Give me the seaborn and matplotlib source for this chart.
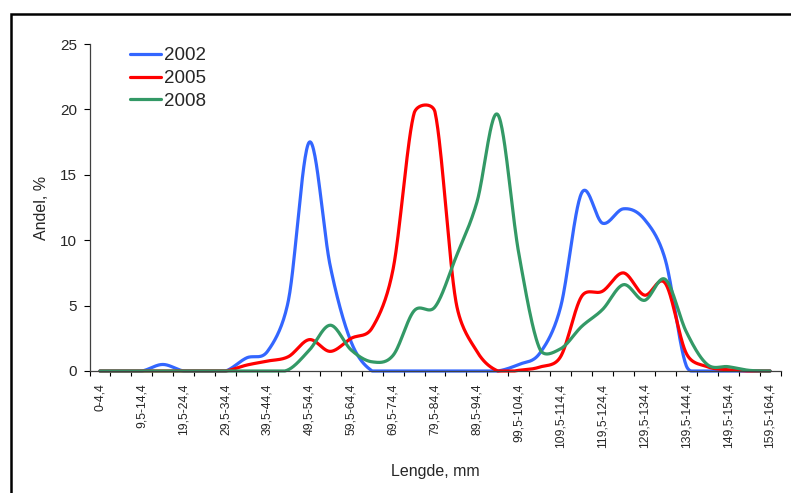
import numpy as np
import pandas as pd
import matplotlib
matplotlib.use('Agg')
import matplotlib.pyplot as plt
import seaborn as sns
from matplotlib.patches import Rectangle

# length classes (mm), 5 mm bins
length_bins = ['0-4,4', '4,5-9,4', '9,5-14,4', '14,5-19,4', '19,5-24,4', '24,5-29,4',
               '29,5-34,4', '34,5-39,4', '39,5-44,4', '44,5-49,4', '49,5-54,4', '54,5-59,4',
               '59,5-64,4', '64,5-69,4', '69,5-74,4', '74,5-79,4', '79,5-84,4', '84,5-89,4',
               '89,5-94,4', '94,5-99,4', '99,5-104,4', '104,5-109,4', '109,5-114,4',
               '114,5-119,4', '119,5-124,4', '124,5-129,4', '129,5-134,4', '134,5-139,4',
               '139,5-144,4', '144,5-149,4', '149,5-154,4', '154,5-159,4', '159,5-164,4']

# share (%) per length class
share_2002 = [0, 0, 0, 0.5, 0, 0, 0, 1.0, 1.5, 5.4, 17.5, 8.0, 2.2, 0, 0, 0, 0,
              0, 0, 0, 0.5, 1.35, 4.9, 13.6, 11.3, 12.4, 11.6, 8.5, 0.4, 0, 0, 0, 0]
share_2005 = [0, 0, 0, 0, 0, 0, 0, 0.45, 0.76, 1.1, 2.4, 1.5, 2.5, 3.3, 7.8, 19.7, 19.8,
              5.3, 1.5, 0, 0.05, 0.3, 1.1, 5.7, 6.1, 7.5, 5.8, 6.7, 1.35, 0.33, 0.1, 0, 0]
share_2008 = [0, 0, 0, 0, 0, 0, 0, 0, 0, 0.1, 1.6, 3.5, 1.6, 0.7, 1.2, 4.6, 4.9,
              8.7, 12.9, 19.6, 9.0, 1.7, 1.7, 3.4, 4.7, 6.6, 5.4, 7.0, 3.0, 0.5, 0.33, 0.05, 0]

years = ['2002', '2005', '2008']
colors = {'2002': '#3366FF', '2005': '#FF0000', '2008': '#339966'}

# pixel size of one category / one percent, so the smoothing behaves like Excel's
PX_X, PX_Y = 20.94, 13.08


def smooth_line(values, steps=30, f=1 / 6):
    """Bezier smoothing through the points; control arms capped at half the segment"""
    p = np.column_stack([np.arange(len(values)) * PX_X, np.asarray(values, float) * PX_Y])
    n = len(p)
    t = np.linspace(0, 1, steps, endpoint=False)[:, None]
    pts = []
    for i in range(n - 1):
        p0 = p[max(i - 1, 0)]
        p1, p2 = p[i], p[i + 1]
        p3 = p[min(i + 2, n - 1)]
        half = np.hypot(*(p2 - p1)) / 2
        a1 = (p2 - p0) * f
        a2 = (p3 - p1) * f
        for a in (a1, a2):
            ln = np.hypot(*a)
            if ln > half:
                a *= half / ln
        c1 = p1 + a1
        c2 = p2 - a2
        pts.append((1 - t)**3 * p1 + 3 * (1 - t)**2 * t * c1 + 3 * (1 - t) * t**2 * c2 + t**3 * p2)
    pts.append(p[-1:])
    pts = np.vstack(pts)
    return pts[:, 0] / PX_X, np.maximum(pts[:, 1] / PX_Y, 0)


frames = []
for year, vals in zip(years, [share_2002, share_2005, share_2008]):
    xs, ys = smooth_line(vals)
    frames.append(pd.DataFrame({'pos': xs, 'share': ys, 'year': year}))
df = pd.concat(frames, ignore_index=True)

sns.set_theme(style='white')
plt.rcParams['font.family'] = ['Liberation Sans', 'DejaVu Sans']

fig = plt.figure(figsize=(7.91, 4.93), dpi=100)
ax = fig.add_axes([89.5 / 791, 1 - 371 / 493, 691 / 791, 327 / 493])

sns.lineplot(data=df, x='pos', y='share', hue='year', palette=colors,
             estimator=None, sort=False, linewidth=2.3, ax=ax)
for line in ax.lines:
    line.set_clip_on(False)

ax.set_xlim(-0.5, len(length_bins) - 0.5)
ax.set_ylim(0, 25)
ax.set_yticks(range(0, 26, 5))
ax.set_xticks(range(0, len(length_bins), 2))
ax.set_xticklabels(length_bins[::2], rotation=90, fontsize=8.8)
ax.set_xticks(np.arange(-0.5, len(length_bins), 1), minor=True)
ax.tick_params(axis='x', which='major', length=0, pad=9)
ax.tick_params(axis='x', which='minor', length=3.5, width=0.8, direction='out', color='black', bottom=True)
ax.tick_params(axis='y', length=4, width=0.8, direction='out', color='black', left=True, labelsize=11, pad=5)

for side in ['top', 'right']:
    ax.spines[side].set_visible(False)
for side in ['left', 'bottom']:
    ax.spines[side].set_color('#404040')
    ax.spines[side].set_linewidth(0.9)

ax.set_xlabel('Lengde, mm', fontsize=11.5, labelpad=11)
ax.set_ylabel('Andel, %', fontsize=11.5, labelpad=8)
ax.grid(False)

ax.legend(loc='upper left', bbox_to_anchor=(0.058, 0.99), frameon=False, fontsize=13.5,
          handlelength=1.65, handletextpad=0.18, labelspacing=0.3, borderaxespad=0, borderpad=0)

# outer chart border
fig.patches.append(Rectangle((10.5 / 791, -0.05), 1.0, 1 - 14 / 493 + 0.05,
                             transform=fig.transFigure, fill=False, edgecolor='black',
                             linewidth=1.8, zorder=-1))

fig.savefig('out.png', dpi=100)
